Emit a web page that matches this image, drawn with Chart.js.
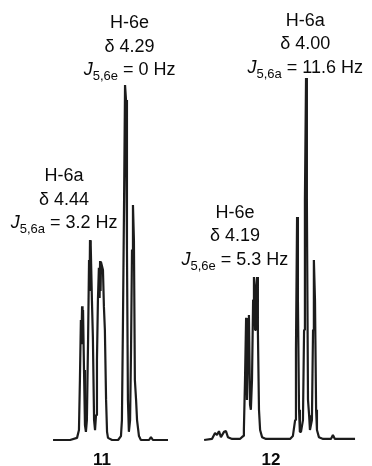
<!DOCTYPE html>
<html>
<head>
<meta charset="utf-8">
<script src="https://cdn.jsdelivr.net/npm/chart.js@4"></script>
<style>
  body { margin: 0; background: #fff; }
  #wrap { width: 372px; height: 466px; }
</style>
</head>
<body>
<div id="wrap"><canvas id="chart" width="372" height="466"></canvas></div>
<script>
// spectrum of 11 (chemical shift in ppm, relative intensity)
const shift11 = [4.599, 4.528, 4.499, 4.491, 4.487, 4.483, 4.481, 4.478, 4.476, 4.474,
    4.470, 4.466, 4.462, 4.458, 4.453, 4.449, 4.447, 4.445, 4.443, 4.441,
    4.437, 4.433, 4.428, 4.424, 4.420, 4.416, 4.412, 4.408, 4.405, 4.403,
    4.401, 4.399, 4.391, 4.387, 4.383, 4.378, 4.374, 4.370, 4.353, 4.328,
    4.316, 4.312, 4.308, 4.303, 4.299, 4.295, 4.291, 4.287, 4.283, 4.278,
    4.274, 4.270, 4.266, 4.262, 4.258, 4.253, 4.249, 4.241, 4.233, 4.199,
    4.191, 4.183, 4.120];
const int11 = [0, 0, 0.6, 2.8, 16.9, 33.8, 27.0, 37.7, 30.0, 36.6,
    19.7, 4.2, 2.3, 5.6, 28.2, 50.7, 42.0, 56.3, 45.0, 54.9,
    39.4, 29.0, 5.6, 2.8, 7.0, 22.5, 39.4, 48.5, 40.0, 50.4,
    42.0, 50.1, 47.9, 37.5, 31.0, 11.3, 2.3, 0.6, 0, 0,
    1.1, 5.6, 31.0, 67.6, 100, 95.8, 53.5, 11.3, 2.3, 5.6,
    25.4, 53.5, 66.2, 56.3, 16.9, 11.3, 5.6, 1.1, 0, 0,
    0.8, 0, 0];

// spectrum of 12
const shift12 = [4.361, 4.333, 4.322, 4.315, 4.308, 4.301, 4.290, 4.283, 4.276, 4.261,
    4.233, 4.222, 4.219, 4.215, 4.211, 4.208, 4.204, 4.201, 4.197, 4.194,
    4.190, 4.186, 4.183, 4.179, 4.176, 4.172, 4.169, 4.165, 4.161, 4.154,
    4.140, 4.054, 4.044, 4.036, 4.033, 4.029, 4.026, 4.022, 4.019, 4.015,
    4.008, 4.004, 4.001, 3.997, 3.994, 3.990, 3.986, 3.983, 3.976, 3.972,
    3.969, 3.965, 3.961, 3.958, 3.951, 3.936, 3.908, 3.901, 3.894, 3.822];
const int12 = [0, 0.3, 2.0, 1.4, 2.5, 0.8, 2.3, 2.5, 0.8, 0.3,
    0.3, 1.1, 2.8, 16.9, 34.4, 11.3, 28.2, 35.2, 9.9, 8.5,
    16.9, 39.4, 45.9, 31.0, 42.3, 45.9, 31.0, 8.5, 2.8, 0.8,
    0.3, 0.3, 1.1, 5.6, 25.4, 62.8, 39.4, 8.5, 2.3, 2.3,
    5.6, 31.0, 67.6, 102, 67.6, 11.3, 7.0, 2.8, 5.6, 31.0,
    50.7, 39.4, 8.5, 2.8, 0.8, 0.3, 0.3, 1.4, 0.3, 0.3];

// peak annotations
const labelAxis = ['x11', 'x11', 'x12', 'x12'];
const labelProton = ['H-6e', 'H-6a', 'H-6a', 'H-6e'];
const labelDelta = ['\u03b4 4.29', '\u03b4 4.44', '\u03b4 4.00', '\u03b4 4.19'];
const labelJsub = ['5,6e', '5,6a', '5,6a', '5,6e'];
const labelJval = ['0', '3.2', '11.6', '5.3'];
const labelShift = [4.28, 4.553, 4.00, 4.251];
const labelLevel = [102.8, 59.7, 103.4, 49.3];

const compounds = ['11', '12'];
const compoundShift = [4.395, 4.122];

function toPoints(xs, ys) {
    return xs.map((x, i) => ({ x: x, y: ys[i] }));
}

const FONT = "'Liberation Sans', Arial, sans-serif";

const labelPlugin = {
    id: 'peakLabels',
    afterDraw(chart) {
        const ctx = chart.ctx;
        const yScale = chart.scales.y;
        ctx.save();
        ctx.fillStyle = '#0a0a0a';
        ctx.textBaseline = 'alphabetic';

        labelProton.forEach((proton, i) => {
            const cx = chart.scales[labelAxis[i]].getPixelForValue(labelShift[i]);
            const base = yScale.getPixelForValue(labelLevel[i]);

            ctx.textAlign = 'center';
            ctx.font = '18px ' + FONT;
            ctx.fillText(proton, cx, base - 47);
            ctx.fillText(labelDelta[i], cx, base - 23.5);

            // J line: italic J, subscript, value
            const rest = ' = ' + labelJval[i] + ' Hz';
            ctx.font = 'italic 18px ' + FONT;
            const wJ = ctx.measureText('J').width;
            ctx.font = '13px ' + FONT;
            const wSub = ctx.measureText(labelJsub[i]).width;
            ctx.font = '18px ' + FONT;
            const wRest = ctx.measureText(rest).width;
            let x = cx - (wJ + wSub + wRest) / 2;
            ctx.textAlign = 'left';
            ctx.font = 'italic 18px ' + FONT;
            ctx.fillText('J', x, base);
            x += wJ;
            ctx.font = '13px ' + FONT;
            ctx.fillText(labelJsub[i], x, base + 5);
            x += wSub;
            ctx.font = '18px ' + FONT;
            ctx.fillText(rest, x, base);
        });

        ctx.textAlign = 'center';
        ctx.font = 'bold 17px ' + FONT;
        compounds.forEach((c, i) => {
            const axis = i === 0 ? 'x11' : 'x12';
            const cx = chart.scales[axis].getPixelForValue(compoundShift[i]);
            ctx.fillText(c, cx, yScale.getPixelForValue(-7));
        });
        ctx.restore();
    }
};

const lineStyle = {
    borderColor: '#1c1c1c',
    borderWidth: 2.2,
    borderJoinStyle: 'bevel',
    pointRadius: 0,
    tension: 0,
    fill: false,
    clip: false
};

new Chart(document.getElementById('chart').getContext('2d'), {
    type: 'line',
    data: {
        datasets: [
            Object.assign({ label: '11', data: toPoints(shift11, int11), xAxisID: 'x11' }, lineStyle),
            Object.assign({ label: '12', data: toPoints(shift12, int12), xAxisID: 'x12' }, lineStyle)
        ]
    },
    options: {
        responsive: false,
        animation: false,
        devicePixelRatio: 1,
        layout: { padding: { top: 85, bottom: 26, left: 0, right: 0 } },
        plugins: { legend: { display: false }, tooltip: { enabled: false } },
        scales: {
            x11: { type: 'linear', reverse: true, min: 3.27, max: 4.82, display: false },
            x12: { type: 'linear', reverse: true, min: 3.7614, max: 5.09, display: false },
            y: { min: 0, max: 100, display: false }
        }
    },
    plugins: [labelPlugin]
});
</script>
</body>
</html>
